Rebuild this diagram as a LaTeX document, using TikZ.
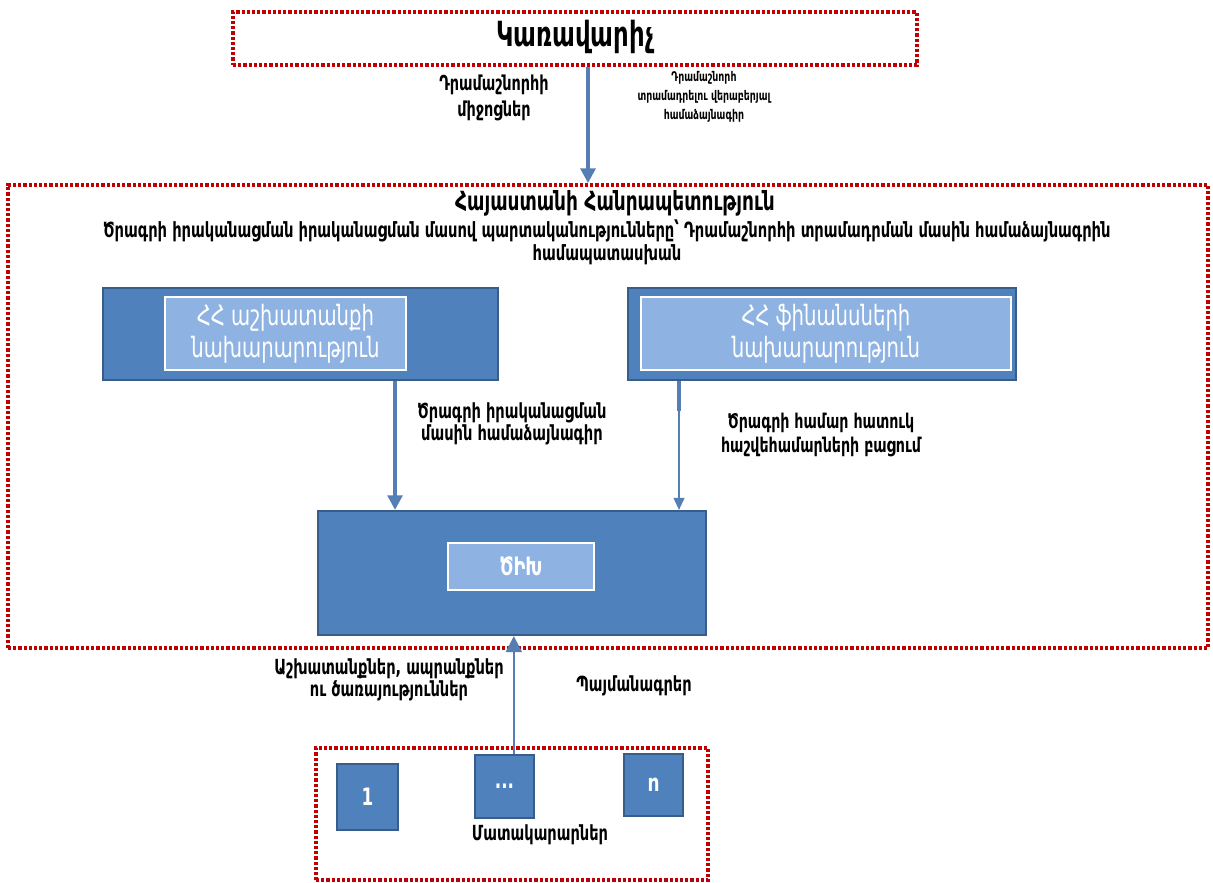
\documentclass[tikz,border=0pt]{standalone}
\usepackage{fontspec}
\setmainfont{DejaVu Sans Condensed}[FakeStretch=0.78]
\usepackage{tikz}
\usetikzlibrary{arrows,arrows.meta,shapes,positioning}
\definecolor{dfblue}{RGB}{79,129,189}
\definecolor{dfdarkblue}{RGB}{56,93,138}
\definecolor{dflightblue}{RGB}{142,179,226}
\definecolor{dfarrow}{RGB}{84,126,180}
\definecolor{dfred}{RGB}{192,0,0}
\tikzstyle{redframe} = [rectangle, draw=dfred, line width=2.8pt, dash pattern=on 2.4pt off 1.5pt]
\tikzstyle{bluebox} = [rectangle, draw=dfdarkblue, fill=dfblue, line width=1.6pt]
\tikzstyle{innerbox} = [rectangle, draw=white, fill=dflightblue, line width=1.4pt, text=white, align=center, font=\fontsize{21}{24}\selectfont]
\tikzstyle{label} = [align=center, font=\bfseries\fontsize{15.6}{17}\selectfont]
\tikzstyle{bigarrow} = [line width=3pt, color=dfarrow, -{Triangle[width=11pt,length=11pt]}]
\tikzstyle{thinarrow} = [line width=1.4pt, color=dfarrow, -{Triangle[width=8pt,length=9pt]}]

\begin{document}
\begin{tikzpicture}[x=0.75pt, y=-0.75pt]
\useasboundingbox (0,0) rectangle (1213,882);

% Frames
\node[redframe, minimum width=513pt, minimum height=39.75pt] (ctrl) at (575,38.5) {};
\node[redframe, minimum width=900pt, minimum height=347.25pt] (state) at (608,416.5) {};
\node[redframe, minimum width=294pt, minimum height=99pt] (suppliers) at (512,814) {};
\node[font=\bfseries\fontsize{26}{30}\selectfont] (ctrltext) at (575,37) {Կառավարիչ};

% Grant
\node[label, font=\bfseries\fontsize{15.4}{19}\selectfont] (funds) at (494,98) {Դրամաշնորհի\\միջոցներ};
\node[label, font=\bfseries\fontsize{10}{14}\selectfont] (grantagr) at (704,97) {Դրամաշնորհ\\տրամադրելու վերաբերյալ\\համաձայնագիր};
\draw[bigarrow] ([xshift=9.75pt]ctrl.south) -- ([xshift=9.75pt]ctrl.south |- state.north);

% Republic
\node[font=\bfseries\fontsize{19.8}{22}\selectfont] (armenia) at (615,203) {Հայաստանի Հանրապետություն};
\node[label, font=\bfseries\fontsize{15.7}{17.3}\selectfont] (duties) at (607,242) {Ծրագրի իրականացման իրականացման մասով պարտականությունները՝ Դրամաշնորհի տրամադրման մասին համաձայնագրին\\համապատասխան};

% Ministries
\node[bluebox, minimum width=296.25pt, minimum height=69pt] (labour) at (300.5,334) {};
\node[innerbox, minimum width=180.75pt, minimum height=54.75pt] (labourin) at (285.5,333.5) {ՀՀ աշխատանքի\\նախարարություն};
\node[bluebox, minimum width=291pt, minimum height=69pt] (finance) at (822,334) {};
\node[innerbox, minimum width=277.5pt, minimum height=54.75pt] (financein) at (826,333.5) {ՀՀ ֆինանսների\\նախարարություն};

% PIU
\node[bluebox, minimum width=291pt, minimum height=93pt] (piu) at (512,573) {};
\node[innerbox, minimum width=109.5pt, minimum height=35.25pt, font=\bfseries\fontsize{19}{22}\selectfont] (piuin) at (521,566.5) {ԾԻԽ};

\node[label] (impl) at (512,424) {Ծրագրի իրականացման\\մասին համաձայնագիր};
\node[label, font=\bfseries\fontsize{15.2}{18}\selectfont] (accounts) at (821,435) {Ծրագրի համար հատուկ\\հաշվեհամարների բացում};
\draw[bigarrow] ([xshift=70.9pt]labour.south) -- ([xshift=70.9pt]labour.south |- piu.north);
\draw[line width=3pt, color=dfarrow] ([xshift=-107.25pt]finance.south) -- ++(0,30);
\draw[thinarrow] ([xshift=-107.25pt]finance.south) -- ([xshift=-107.25pt]finance.south |- piu.north);

% Suppliers
\node[bluebox, minimum width=45.75pt, minimum height=49.5pt, text=white, font=\bfseries\fontsize{18}{20}\selectfont] (s1) at (367.5,797) {1};
\node[bluebox, minimum width=44.25pt, minimum height=47.25pt, text=white, font=\bfseries\fontsize{18}{20}\selectfont] (s2) at (504.5,786.5) {...};
\node[bluebox, minimum width=44.25pt, minimum height=46.5pt, text=white, font=\bfseries\fontsize{18}{20}\selectfont] (s3) at (653.5,785) {n};
\node[label] (supname) at (540,835) {Մատակարարներ};
\node[label, font=\bfseries\fontsize{15.6}{16.5}\selectfont] (goods) at (389,680) {Աշխատանքներ, ապրանքներ\\ու ծառայություններ};
\node[label] (contracts) at (634,686) {Պայմանագրեր};
\draw[line width=1.4pt, color=dfarrow, -{Triangle[width=12pt,length=12pt]}] ([xshift=7pt]s2.north) -- ([xshift=7pt]s2.north |- piu.south);
\end{tikzpicture}
\end{document}
